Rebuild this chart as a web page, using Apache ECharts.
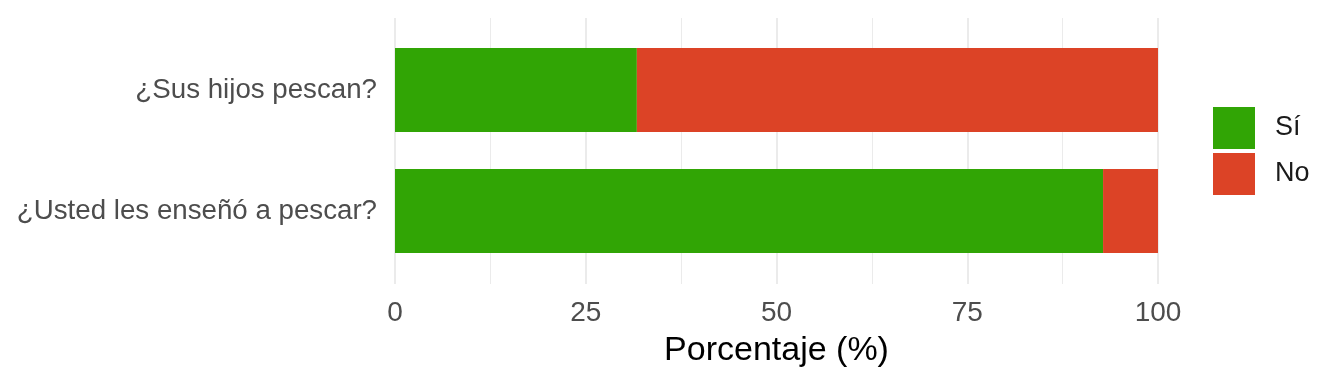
<!DOCTYPE html>
<html>
<head>
<meta charset="utf-8">
<script src="https://cdn.jsdelivr.net/npm/echarts@6/dist/echarts.min.js"></script>
<style>
html,body{margin:0;padding:0;background:#fff;}
#chart{width:1344px;height:384px;}
</style>
</head>
<body>
<div id="chart"></div>
<script>
const categories = ['¿Sus hijos pescan?', '¿Usted les enseñó a pescar?'];
const seriesNames = ['Sí', 'No'];
const siValues = [31.7, 92.8];
const noValues = [68.3, 7.2];
const xTicks = [0, 25, 50, 75, 100];
const xTitle = 'Porcentaje (%)';

const FONT = '"Liberation Sans", Arial, sans-serif';
const chart = echarts.init(document.getElementById('chart'));
chart.setOption({
  animation: false,
  textStyle: {fontFamily: FONT},
  grid: [
    {left: 395, width: 763, top: 29.5, height: 242, containLabel: false},
    {left: 395, width: 763, top: 18, height: 266, containLabel: false}
  ],
  legend: {
    orient: 'vertical',
    left: 1208,
    top: 102,
    itemWidth: 42,
    itemHeight: 42,
    itemGap: 4,
    icon: 'rect',
    data: seriesNames,
    textStyle: {fontSize: 27, color: '#1a1a1a', padding: [0, 0, 0, 15], fontFamily: FONT}
  },
  xAxis: [
    {gridIndex: 0, type: 'value', min: 0, max: 100, show: false},
    {
      gridIndex: 1, type: 'value', min: 0, max: 100, interval: 25,
      axisLine: {show: false}, axisTick: {show: false},
      axisLabel: {fontSize: 28, color: '#4d4d4d', margin: 15, fontFamily: FONT,
        formatter: v => xTicks.includes(v) ? String(v) : ''},
      splitLine: {show: true, lineStyle: {color: '#ebebeb', width: 2}},
      minorTick: {show: false, splitNumber: 2},
      minorSplitLine: {show: true, lineStyle: {color: '#ebebeb', width: 1}},
      name: xTitle, nameLocation: 'middle', nameGap: 50,
      nameTextStyle: {fontSize: 34, color: '#000', fontFamily: FONT}
    }
  ],
  yAxis: [
    {
      gridIndex: 0, type: 'category', data: categories, inverse: true,
      axisLine: {show: false}, axisTick: {show: false}, splitLine: {show: false},
      axisLabel: {fontSize: 27.7, color: '#4d4d4d', margin: 18, fontFamily: FONT}
    },
    {gridIndex: 1, type: 'value', show: false}
  ],
  series: [
    {name: seriesNames[0], type: 'bar', stack: 'total', xAxisIndex: 0, yAxisIndex: 0,
     barWidth: 84, itemStyle: {color: '#31a505'}, data: siValues},
    {name: seriesNames[1], type: 'bar', stack: 'total', xAxisIndex: 0, yAxisIndex: 0,
     barWidth: 84, itemStyle: {color: '#dc4326'}, data: noValues}
  ]
});
</script>
</body>
</html>
